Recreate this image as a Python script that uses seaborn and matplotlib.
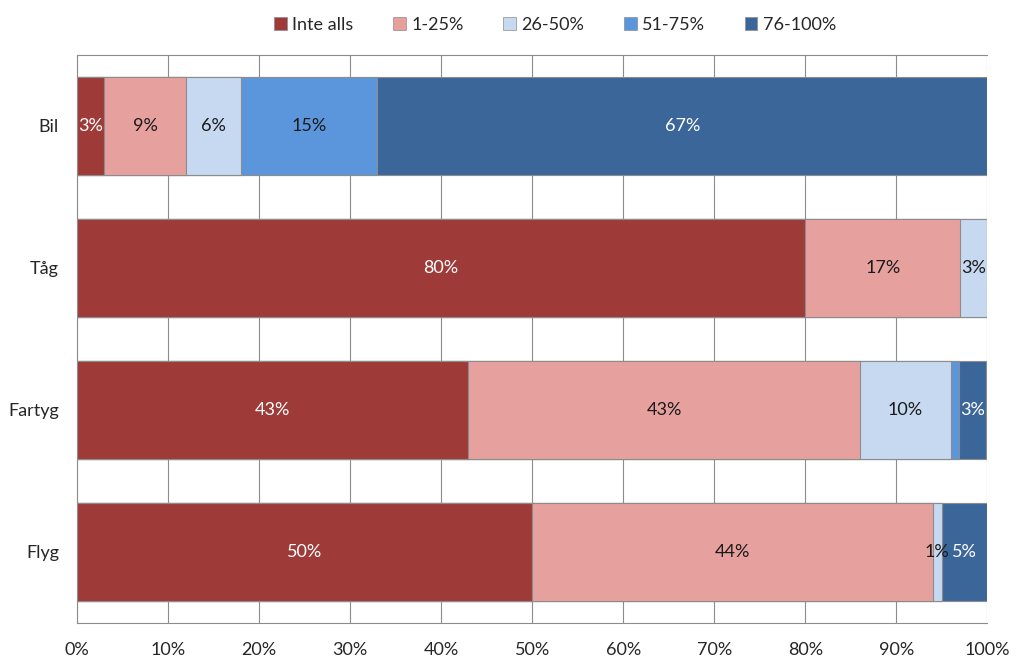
import numpy as np
import pandas as pd
import matplotlib
matplotlib.use("Agg")
import matplotlib.pyplot as plt
from matplotlib.patches import Patch
import seaborn as sns

categories = ["Bil", "Tåg", "Fartyg", "Flyg"]
series = ["Inte alls", "1-25%", "26-50%", "51-75%", "76-100%"]
inte_alls = [3, 80, 43, 50]
p1_25 = [9, 17, 43, 44]
p26_50 = [6, 3, 10, 1]
p51_75 = [15, 0, 0.9, 0]
p76_100 = [67, 0, 3, 5]

colors = ["#9E3B39", "#E6A19F", "#C6D9F1", "#5B96DC", "#3B6699"]
text_colors = ["white", "#1a1a1a", "#1a1a1a", "#1a1a1a", "white"]

sns.set_style("white")
plt.rcParams["font.family"] = ["Lato", "DejaVu Sans"]

vals = np.array([inte_alls, p1_25, p26_50, p51_75, p76_100], dtype=float)
cum = vals.cumsum(axis=0)

fig = plt.figure(figsize=(10.24, 6.69), dpi=100)
ax = fig.add_axes([0.0752, 0.0688, 0.889, 0.849])

# stacked bars: draw cumulative totals from the largest down so each segment shows
for i in range(len(series) - 1, -1, -1):
    df = pd.DataFrame({"cat": categories, "val": cum[i]})
    sns.barplot(data=df, x="val", y="cat", orient="h", color=colors[i],
                saturation=1, width=0.69, edgecolor="#8c8c8c", linewidth=0.8,
                ax=ax, zorder=3)

# segment labels
for i in range(len(series)):
    for j in range(len(categories)):
        v = vals[i, j]
        if v < 1:
            continue
        xc = cum[i, j] - v / 2
        ax.text(xc, j, f"{v:.0f}%", ha="center", va="center",
                fontsize=13, color=text_colors[i], zorder=5)

ax.set_xlim(0, 100)
ax.set_ylim(3.5, -0.5)
ax.set_xticks(np.arange(0, 101, 10))
ax.set_xticklabels([f"{t}%" for t in range(0, 101, 10)], fontsize=13)
ax.set_yticks(range(len(categories)))
ax.set_yticklabels(categories, fontsize=13)
ax.set_yticks(np.arange(-0.5, 4, 1), minor=True)
ax.tick_params(axis="y", which="major", length=0, pad=13)
ax.tick_params(axis="y", which="minor", length=5, color="#8c8c8c", direction="out")
ax.tick_params(axis="x", length=6, color="#8c8c8c", direction="out", pad=8)
ax.set_xlabel("")
ax.set_ylabel("")
ax.grid(axis="x", color="#8c8c8c", linewidth=0.8, zorder=0)
ax.set_axisbelow(True)
ax.spines["right"].set_visible(False)
for s in ["left", "bottom", "top"]:
    ax.spines[s].set_color("#8c8c8c")
    ax.spines[s].set_linewidth(0.8)

handles = [Patch(facecolor=c, edgecolor="#8c8c8c", linewidth=0.5) for c in colors]
fig.legend(handles, series, loc="center", bbox_to_anchor=(0.542, 0.963), ncol=5,
           frameon=False, fontsize=13, handlelength=0.7, handleheight=0.7,
           handletextpad=0.3, columnspacing=2.2)

fig.savefig("out.png", dpi=100)
